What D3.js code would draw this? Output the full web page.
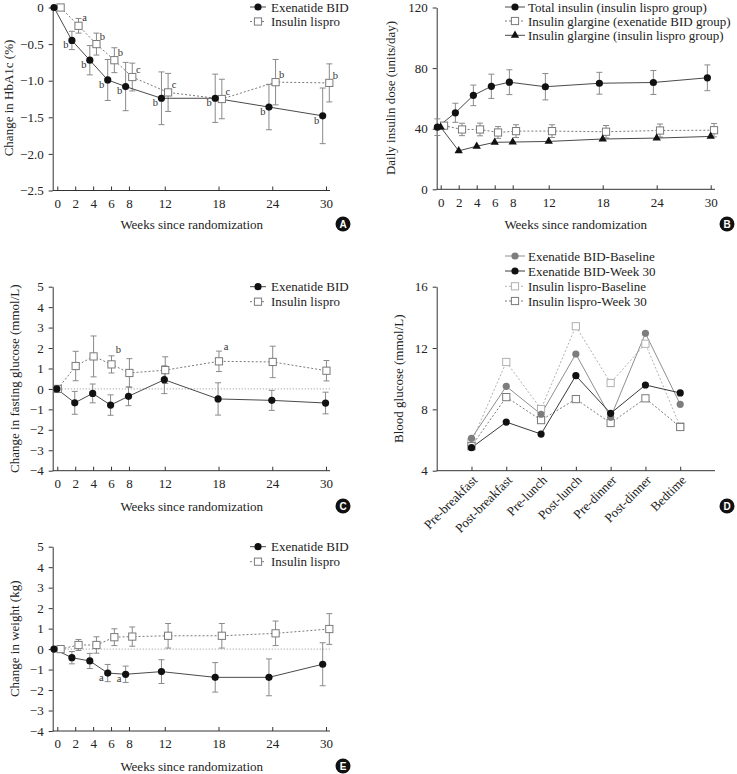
<!DOCTYPE html>
<html><head><meta charset="utf-8">
<script src="https://cdn.jsdelivr.net/npm/d3@7"></script>
<style>
body{margin:0;background:#fff}
svg{display:block}
</style>
</head><body><svg id="chart" width="737" height="774"></svg>
<script>
// ---------- DATA ----------
const weeks = [0, 2, 4, 6, 8, 12, 18, 24, 30];
const weekTicks = [0, 2, 4, 6, 8, 12, 18, 24, 30];

// Panel A: change in HbA1c (%)
const hba1cTicks = [0, -0.5, -1.0, -1.5, -2.0, -2.5];
const hba1cExenatide = [0, -0.45, -0.72, -0.99, -1.08, -1.24, -1.24, -1.36, -1.48];
const hba1cExenatideErr = [0, 0.125, 0.2, 0.28, 0.33, 0.36, 0.33, 0.31, 0.38];
const hba1cExenatideSig = ["", "b", "b", "b", "b", "b", "b", "b", "b"];
const hba1cLispro = [0, -0.25, -0.5, -0.72, -0.95, -1.16, -1.25, -1.02, -1.03];
const hba1cLisproErr = [0, 0.1, 0.15, 0.17, 0.19, 0.26, 0.27, 0.31, 0.26];
const hba1cLisproSig = ["", "a", "b", "b", "c", "c", "c", "b", "b"];

// Panel B: daily insulin dose (units/day)
const doseTicks = [0, 40, 80, 120];
const doseTotalLispro = [41, 50.5, 62, 68, 70.7, 67.7, 70, 70.5, 73.6];
const doseTotalLisproErr = [5.5, 6.3, 6.8, 8, 8.2, 8.7, 7.2, 7.9, 8.5];
const doseGlargineExenatide = [42, 39.5, 39.5, 37.5, 38.4, 38.4, 38, 38.8, 39];
const doseGlargineExenatideErr = [0, 4.1, 4.2, 3.9, 4.2, 4.2, 4.1, 4.3, 4.4];
const doseGlargineLispro = [41, 25.4, 28.4, 31, 31.2, 31.6, 33.2, 33.8, 34.9];

// Panel C: change in fasting glucose (mmol/L)
const changeTicks = [5, 4, 3, 2, 1, 0, -1, -2, -3, -4];
const fpgExenatide = [0, -0.68, -0.22, -0.79, -0.36, 0.45, -0.49, -0.56, -0.69];
const fpgExenatideErr = [0, 0.56, 0.46, 0.5, 0.46, 0.68, 0.79, 0.49, 0.53];
const fpgLispro = [0, 1.12, 1.59, 1.2, 0.78, 0.92, 1.35, 1.32, 0.89];
const fpgLisproErr = [0, 0.72, 1.0, 0.42, 0.7, 0.65, 0.5, 0.77, 0.5];
const fpgLisproSig = ["", "", "", "b", "", "", "a", "", ""];

// Panel D: blood glucose profile (mmol/L)
const glucoseTicks = [4, 8, 12, 16];
const timepoints = ["Pre-breakfast", "Post-breakfast", "Pre-lunch", "Post-lunch", "Pre-dinner", "Post-dinner", "Bedtime"];
const smbgExenatideBaseline = [6.11, 9.5, 7.68, 11.61, 7.48, 12.96, 8.33];
const smbgExenatideWeek30 = [5.5, 7.17, 6.39, 10.2, 7.74, 9.59, 9.07];
const smbgLisproBaseline = [5.85, 11.09, 8.02, 13.42, 9.72, 12.28, 6.88];
const smbgLisproWeek30 = [5.6, 8.8, 7.3, 8.67, 7.11, 8.72, 6.85];

// Panel E: change in weight (kg)
const weightExenatide = [0, -0.42, -0.58, -1.17, -1.23, -1.1, -1.38, -1.38, -0.74];
const weightExenatideErr = [0, 0.3, 0.37, 0.42, 0.4, 0.58, 0.72, 0.9, 1.05];
const weightExenatideSig = ["", "", "", "a", "a", "", "", "", ""];
const weightLispro = [0, 0.2, 0.2, 0.58, 0.61, 0.65, 0.65, 0.77, 0.98];
const weightLisproErr = [0, 0.27, 0.4, 0.41, 0.47, 0.6, 0.6, 0.6, 0.75];

// ---------- STYLES ----------
const SERIF = "'Liberation Serif', 'DejaVu Serif', 'Noto Serif', 'Times New Roman', serif";
const FS = 13;
const ERR = "#8a8a8a";
const styles = {
  exenatide: {marker: "circle", fill: "#111", stroke: "#4a4a4a", dash: null},
  lispro: {marker: "square", fill: "#fff", stroke: "#7a7a7a", dash: "2,2"},
  triangle: {marker: "triangle", fill: "#111", stroke: "#4a4a4a", dash: null},
  exBase: {marker: "circle", fill: "#7d7d7d", stroke: "#8f8f8f", dash: null},
  exW30: {marker: "circle", fill: "#111", stroke: "#3a3a3a", dash: null},
  lisBase: {marker: "square", fill: "#fff", stroke: "#b0b0b0", dash: "2,2"},
  lisW30: {marker: "square", fill: "#fff", stroke: "#7a7a7a", dash: "2,2"}
};

const svg = d3.select("#chart");

function drawMarker(g, st, cx, cy) {
  if (st.marker === "circle") {
    g.append("circle").attr("cx", cx).attr("cy", cy).attr("r", 3.6).attr("fill", st.fill);
  } else if (st.marker === "square") {
    g.append("rect").attr("x", cx - 3.6).attr("y", cy - 3.6).attr("width", 7.2).attr("height", 7.2)
      .attr("fill", "#fff").attr("stroke", st.stroke).attr("stroke-width", 1);
  } else if (st.marker === "triangle") {
    g.append("path").attr("d", d3.symbol(d3.symbolTriangle, 30)()).attr("transform", `translate(${cx},${cy})`).attr("fill", st.fill);
  }
}

function styleAxis(a) {
  a.attr("font-size", FS);
  a.selectAll("path.domain").attr("stroke", "#333");
  a.selectAll(".tick line").attr("stroke", "#333");
  a.selectAll(".tick text").attr("fill", "#222");
}

function legend(g, x0, len, tx, rows) {
  rows.forEach(r => {
    const st = styles[r.style];
    g.append("line").attr("x1", x0).attr("x2", x0 + len).attr("y1", r.y).attr("y2", r.y)
      .attr("stroke", st.stroke).attr("stroke-dasharray", st.dash);
    drawMarker(g, st, x0 + len / 2, r.y);
    g.append("text").attr("x", tx).attr("y", r.y).attr("dy", "0.36em").attr("font-size", FS).attr("fill", "#222").text(r.label);
  });
}

function badge(x, y, letter) {
  svg.append("circle").attr("cx", x).attr("cy", y).attr("r", 7.5).attr("fill", "#111");
  svg.append("text").attr("class", "badge").attr("x", x).attr("y", y).attr("dy", "0.36em").attr("text-anchor", "middle")
    .style("font-family", "'Liberation Sans', Arial, sans-serif").style("font-weight", "bold")
    .attr("fill", "#fff").attr("font-size", 10).text(letter);
}

function yTitle(x, y, label) {
  svg.append("text").attr("transform", `translate(${x},${y}) rotate(-90)`).attr("text-anchor", "middle")
    .attr("font-size", FS).attr("fill", "#222").text(label);
}

function xTitle(x, y, label) {
  svg.append("text").attr("x", x).attr("y", y).attr("dy", "0.36em").attr("text-anchor", "middle")
    .attr("font-size", FS).attr("fill", "#222").text(label);
}

function drawSeries(g, x, y, values, errs, st, dx, sig, sdx, sdy, part) {
  const pts = weeks.map((w, i) => ({px: x(w + dx), py: y(values[i]), v: values[i], e: errs ? errs[i] : 0, s: sig ? sig[i] : ""}));
  if (part === "err" && errs) {
    pts.forEach(p => {
      if (!p.e) return;
      const t = y(p.v + p.e), b = y(p.v - p.e);
      g.append("line").attr("x1", p.px).attr("x2", p.px).attr("y1", t).attr("y2", b).attr("stroke", ERR);
      [t, b].forEach(yy => g.append("line").attr("x1", p.px - 3).attr("x2", p.px + 3).attr("y1", yy).attr("y2", yy).attr("stroke", ERR));
    });
  }
  if (part === "line") {
    g.append("path").attr("d", d3.line().x(p => p.px).y(p => p.py)(pts)).attr("fill", "none")
      .attr("stroke", st.stroke).attr("stroke-width", 1).attr("stroke-dasharray", st.dash);
  }
  if (part === "mark") {
    pts.forEach(p => drawMarker(g, st, p.px, p.py));
    pts.forEach(p => {
      if (p.s) g.append("text").attr("x", p.px + sdx).attr("y", p.py + sdy).attr("dy", "0.35em")
        .attr("text-anchor", "middle").attr("font-size", 10.5).attr("fill", "#333").text(p.s);
    });
  }
}

function weekPanel(o) {
  const g = svg.append("g");
  const x = d3.scaleLinear().domain([0, 30]).range(o.xRange);
  const y = d3.scaleLinear().domain(o.yDomain).range(o.yRange);
  const ya = g.append("g").attr("transform", `translate(${o.yAxisX},0)`)
    .call(d3.axisLeft(y).tickValues(o.yTicks).tickFormat(o.yFormat).tickSize(4).tickSizeOuter(0).tickPadding(5));
  styleAxis(ya);
  const base = o.yRange[0];
  const xa = g.append("g").attr("transform", `translate(0,${base})`)
    .call(d3.axisBottom(x).tickValues(weekTicks).tickFormat(d3.format("d")).tickSize(-4).tickSizeOuter(0).tickPadding(8));
  xa.select(".domain").remove();
  styleAxis(xa);
  g.append("line").attr("x1", o.yAxisX).attr("x2", o.xEnd).attr("y1", base).attr("y2", base).attr("stroke", "#333");
  if (o.zeroLine) {
    g.append("line").attr("x1", o.yAxisX).attr("x2", o.xEnd).attr("y1", y(0)).attr("y2", y(0))
      .attr("stroke", "#b5b5b5").attr("stroke-width", 1.2).attr("stroke-dasharray", "1.2,1.8");
  }
  ["err", "line", "mark"].forEach(part => {
    o.series.forEach(s => drawSeries(g, x, y, s.values, s.errs, styles[s.style], s.dx, s.sig, s.sdx, s.sdy, part));
  });
  return g;
}

const fmtHb = d => d === 0 ? "0" : "\u2212" + Math.abs(d).toFixed(1);
const fmtInt = d => d < 0 ? "\u2212" + Math.abs(d) : String(d);

// ---------- PANEL A ----------
const gA = weekPanel({
  xRange: [57.3, 326], yDomain: [-2.5, 0], yRange: [190.5, 7.5], yAxisX: 52.7, xEnd: 330,
  yTicks: hba1cTicks, yFormat: fmtHb,
  series: [
    {values: hba1cLispro, errs: hba1cLisproErr, style: "lispro", dx: 0.37, sig: hba1cLisproSig, sdx: 6, sdy: -8},
    {values: hba1cExenatide, errs: hba1cExenatideErr, style: "exenatide", dx: -0.37, sig: hba1cExenatideSig, sdx: -6, sdy: 4}
  ]
});
legend(gA, 250, 16, 271, [
  {y: 7, label: "Exenatide BID", style: "exenatide"},
  {y: 21.5, label: "Insulin lispro", style: "lispro"}
]);
yTitle(13, 98, "Change in HbA1c (%)");
xTitle(191.7, 224, "Weeks since randomization");
badge(343, 224, "A");

// ---------- PANEL B ----------
const gB = weekPanel({
  xRange: [440.7, 710.7], yDomain: [0, 120], yRange: [189.3, 7.5], yAxisX: 436.7, xEnd: 715,
  yTicks: doseTicks, yFormat: d3.format("d"),
  series: [
    {values: doseGlargineExenatide, errs: doseGlargineExenatideErr, style: "lispro", dx: 0.37},
    {values: doseGlargineLispro, errs: null, style: "triangle", dx: 0},
    {values: doseTotalLispro, errs: doseTotalLisproErr, style: "exenatide", dx: -0.37}
  ]
});
legend(gB, 505, 20, 528, [
  {y: 7, label: "Total insulin (insulin lispro group)", style: "exenatide"},
  {y: 21, label: "Insulin glargine (exenatide BID group)", style: "lispro"},
  {y: 35.3, label: "Insulin glargine (insulin lispro group)", style: "triangle"}
]);
yTitle(395, 98, "Daily insulin dose (units/day)");
xTitle(575.7, 224, "Weeks since randomization");
badge(727, 224, "B");

// ---------- PANEL C ----------
const gC = weekPanel({
  xRange: [57.3, 326], yDomain: [-4, 5], yRange: [470.7, 286.7], yAxisX: 52.7, xEnd: 330, zeroLine: true,
  yTicks: changeTicks, yFormat: fmtInt,
  series: [
    {values: fpgLispro, errs: fpgLisproErr, style: "lispro", dx: 0.05, sig: fpgLisproSig, sdx: 7, sdy: -15},
    {values: fpgExenatide, errs: fpgExenatideErr, style: "exenatide", dx: -0.05}
  ]
});
legend(gC, 250, 16, 271, [
  {y: 286.7, label: "Exenatide BID", style: "exenatide"},
  {y: 301.7, label: "Insulin lispro", style: "lispro"}
]);
yTitle(19, 378.7, "Change in fasting glucose (mmol/L)");
xTitle(191.7, 506, "Weeks since randomization");
badge(343, 506, "C");

// ---------- PANEL D ----------
(function () {
  const g = svg.append("g");
  const x = d3.scalePoint().domain(timepoints).range([436.7, 715]).padding(1);
  const y = d3.scaleLinear().domain([4, 16]).range([470.7, 286.7]);
  const ya = g.append("g").attr("transform", "translate(436.7,0)")
    .call(d3.axisLeft(y).tickValues(glucoseTicks).tickFormat(d3.format("d")).tickSize(4).tickSizeOuter(0).tickPadding(5));
  styleAxis(ya);
  const xa = g.append("g").attr("transform", "translate(0,470.7)")
    .call(d3.axisBottom(x).tickSize(-4).tickSizeOuter(0).tickPadding(8));
  xa.select(".domain").remove();
  styleAxis(xa);
  xa.selectAll(".tick text").attr("text-anchor", "end").attr("dy", "0.35em")
    .attr("transform", "translate(3,7) rotate(-45)").attr("y", 0).attr("x", 0);
  g.append("line").attr("x1", 436.7).attr("x2", 715).attr("y1", 470.7).attr("y2", 470.7).attr("stroke", "#333");
  const series = [
    {values: smbgLisproBaseline, style: "lisBase"},
    {values: smbgLisproWeek30, style: "lisW30"},
    {values: smbgExenatideBaseline, style: "exBase"},
    {values: smbgExenatideWeek30, style: "exW30"}
  ];
  series.forEach(s => {
    const st = styles[s.style];
    g.append("path").attr("d", d3.line().x((d, i) => x(timepoints[i])).y(d => y(d))(s.values))
      .attr("fill", "none").attr("stroke", st.stroke).attr("stroke-dasharray", st.dash);
  });
  series.forEach(s => s.values.forEach((v, i) => drawMarker(g, styles[s.style], x(timepoints[i]), y(v))));
  legend(g, 505, 20, 528, [
    {y: 256, label: "Exenatide BID-Baseline", style: "exBase"},
    {y: 271, label: "Exenatide BID-Week 30", style: "exW30"},
    {y: 286.3, label: "Insulin lispro-Baseline", style: "lisBase"},
    {y: 301, label: "Insulin lispro-Week 30", style: "lisW30"}
  ]);
})();
yTitle(403, 378.7, "Blood glucose (mmol/L)");
badge(727, 506, "D");

// ---------- PANEL E ----------
const gE = weekPanel({
  xRange: [57.3, 326], yDomain: [-4, 5], yRange: [731, 546.7], yAxisX: 52.7, xEnd: 330, zeroLine: true,
  yTicks: changeTicks, yFormat: fmtInt,
  series: [
    {values: weightLispro, errs: weightLisproErr, style: "lispro", dx: 0.37},
    {values: weightExenatide, errs: weightExenatideErr, style: "exenatide", dx: -0.37, sig: weightExenatideSig, sdx: -6.5, sdy: 4.5}
  ]
});
legend(gE, 250, 16, 271, [
  {y: 546.7, label: "Exenatide BID", style: "exenatide"},
  {y: 561.7, label: "Insulin lispro", style: "lispro"}
]);
yTitle(19, 638.8, "Change in weight (kg)");
xTitle(191.7, 766, "Weeks since randomization");
badge(343, 766, "E");

// serif font for every non-badge text
svg.selectAll("text").filter(function () { return !this.classList.contains("badge"); })
  .style("font-family", SERIF);
</script>
</body></html>
